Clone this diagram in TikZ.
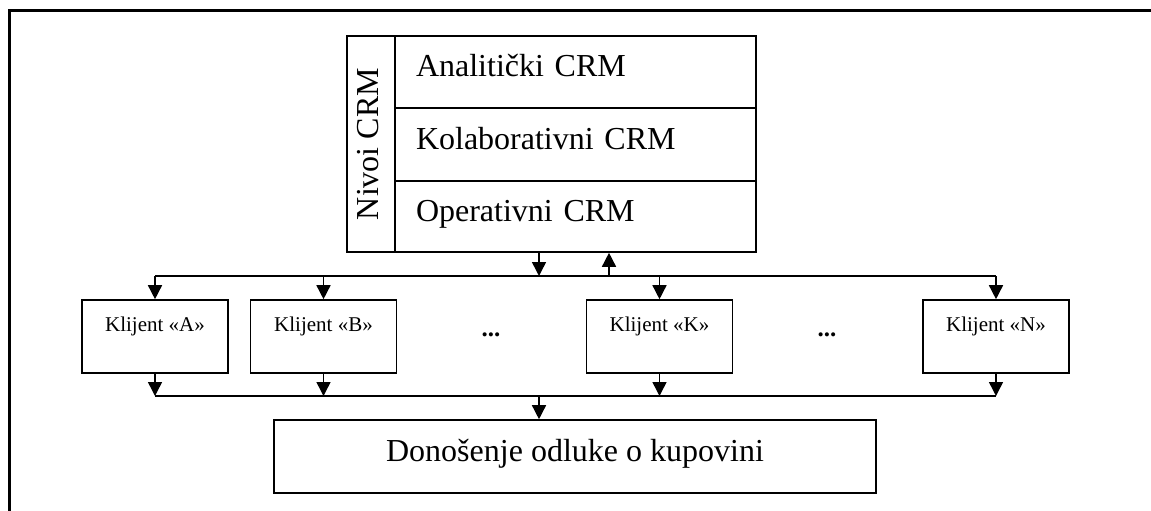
\documentclass[tikz,border=0pt]{standalone}
\usepackage{fontspec}
\setmainfont{Liberation Serif}
\usetikzlibrary{arrows.meta,calc}
\tikzset{
  boxline/.style={draw, line width=1.6pt},
  bigtext/.style={font=\fontsize{32}{38}\selectfont},
  smalltext/.style={font=\fontsize{21}{25}\selectfont},
  dotstext/.style={font=\fontsize{25}{30}\selectfont\bfseries, anchor=base, inner sep=0pt},
  rowbox/.style={boxline, bigtext, rectangle, text width=319pt, inner xsep=21pt, inner ysep=0pt, align=left, text height=18pt, text depth=9pt},
  clientbox/.style={boxline, smalltext, rectangle, minimum width=146pt, minimum height=73pt, inner sep=0pt, text height=15pt, text depth=26pt},
  arr/.style={line width=1.5pt, -{Triangle[length=14pt,width=14pt]}},
  busline/.style={line width=1.5pt},
}
\begin{document}
\begin{tikzpicture}[x=1pt,y=-1pt]
\useasboundingbox (0,0) rectangle (1151,511);
% outer frame
\draw[line width=3pt] (9,511) -- (9,10.5) -- (1151,10.5);
% top box
\node[rowbox, minimum height=72pt] (r1) at (575.5,72) {Analitički CRM};
\node[rowbox, minimum height=73pt] (r2) at (575.5,144.5) {Kolaborativni CRM};
\node[rowbox, minimum height=71pt] (r3) at (575.5,216.5) {Operativni CRM};
\node[boxline, bigtext, rotate=90, minimum width=216pt, minimum height=48pt, inner sep=0pt, text height=18pt, text depth=4pt] (nv) at (371,144) {Nivoi CRM};
% clients
\node[clientbox] (ka) at (155,336.5) {Klijent «A»};
\node[clientbox] (kb) at (323.5,336.5) {Klijent «B»};
\node[clientbox] (kk) at (659.5,336.5) {Klijent «K»};
\node[clientbox] (kn) at (996,336.5) {Klijent «N»};
\node[dotstext] (d1) at (491,336.5) {...};
\node[dotstext] (d2) at (827,336.5) {...};
% bottom box
\node[boxline, bigtext, minimum width=602pt, minimum height=73pt, inner sep=0pt, text height=18pt, text depth=9pt] (bot) at (575,456.5) {Donošenje odluke o kupovini};
% buses
\coordinate (busU) at (0,276);
\coordinate (busL) at (0,396);
\coordinate (tapD) at (539,276);
\coordinate (tapU) at (609,276);
\coordinate (tapL) at (539,396);
\draw[busline] (ka.north |- busU) -- (kn.north |- busU);
\draw[arr] (tapD |- r3.south) -- (tapD);
\draw[arr] (tapU) -- (tapU |- r3.south);
\foreach \k in {ka,kb,kk,kn}{
  \draw[arr] (\k.north |- busU) -- (\k.north);
  \draw[arr] (\k.south) -- (\k.south |- busL);
}
\draw[busline] (ka.south |- busL) -- (kn.south |- busL);
\draw[arr] (tapL) -- (tapL |- bot.north);
\end{tikzpicture}
\end{document}
